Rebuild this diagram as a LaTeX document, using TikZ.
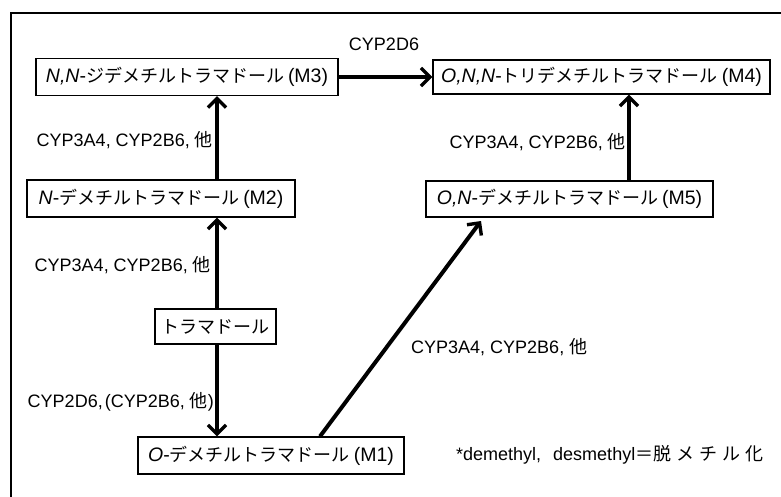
\documentclass[tikz,border=0pt]{standalone}
\usepackage{fontspec}
\setmainfont{Liberation Sans}
\newfontfamily\jp{Noto Sans CJK JP}
\usetikzlibrary{arrows.meta}
\newcommand{\kn}[1]{{\jp\fontsize{18}{20}\selectfont #1}}
\newcommand{\pa}[1]{\hspace{4pt}(#1)}
\tikzset{
  box/.style={draw, line width=1.3pt, minimum height=37pt, inner sep=0pt, font=\fontsize{19.5}{21}\selectfont},
  lbl/.style={inner sep=0pt, font=\fontsize{18}{20}\selectfont},
  conn/.style={line width=4pt, -{Straight Barb[length=9pt,width=18pt,line width=3.4pt]}},
  frame/.style={line width=2.6pt}
}
\begin{document}
\begin{tikzpicture}[x=1pt,y=-1pt]
\clip (0,0) rectangle (781,496);
\draw[frame] (11,13) rectangle (800,520);
% boxes
\node[box, minimum width=302pt] (M3) at (187,77) {\itshape N,N\upshape-\kn{ジデメチルトラマドール}\pa{M3}};
\node[box, minimum width=337pt, minimum height=34pt] (M4) at (601.5,77) {\itshape O,N,N\upshape-\kn{トリデメチルトラマドール}\pa{M4}};
\node[box, minimum width=268pt] (M2) at (161,198.5) {\itshape N\upshape-\kn{デメチルトラマドール}\pa{M2}};
\node[box, minimum width=287pt, minimum height=36pt] (M5) at (569.5,199) {\itshape O,N\upshape-\kn{デメチルトラマドール}\pa{M5}};
\node[box, minimum width=121pt, minimum height=35pt] (T) at (215.5,326.5) {\kn{トラマドール}};
\node[box, minimum width=266pt] (M1) at (271,455.5) {\itshape O\upshape-\kn{デメチルトラマドール}\pa{M1}};
% guide coordinates
\coordinate (xa) at (217,0);
\coordinate (xb) at (629,0);
\coordinate (xc) at (320,0);
\coordinate (m5t) at (481,221);
% connectors
\draw[conn] (M2.north -| xa) -- (M3.south -| xa);
\draw[conn] (T.north -| xa) -- (M2.south -| xa);
\draw[conn] (T.south -| xa) -- (M1.north -| xa);
\draw[conn] (M3) -- (M4);
\draw[conn] (M5.north -| xb) -- (M4.south -| xb);
\draw[conn] (M1.north -| xc) -- (m5t);
% labels
\node[lbl] (L4) at (384,44) {CYP2D6};
\node[lbl, anchor=east] (L1) at (213,140) {CYP3A4, CYP2B6, {\jp 他}};
\node[lbl, anchor=east] (L2) at (211,265) {CYP3A4, CYP2B6, {\jp 他}};
\node[lbl, anchor=east] (L3) at (214,402) {CYP2D6,\hspace{2pt}(CYP2B6, {\jp 他})};
\node[lbl, anchor=east] (L5) at (626,142) {CYP3A4, CYP2B6, {\jp 他}};
\node[lbl, anchor=west] (L6) at (411,347) {CYP3A4, CYP2B6, {\jp 他}};
\node[lbl, anchor=west] (FN) at (456,455) {*demethyl,\hspace{12pt}desmethyl{\jp ＝脱\hspace{5pt}メ\hspace{5pt}チ\hspace{5pt}ル\hspace{5pt}化}};
\end{tikzpicture}
\end{document}
